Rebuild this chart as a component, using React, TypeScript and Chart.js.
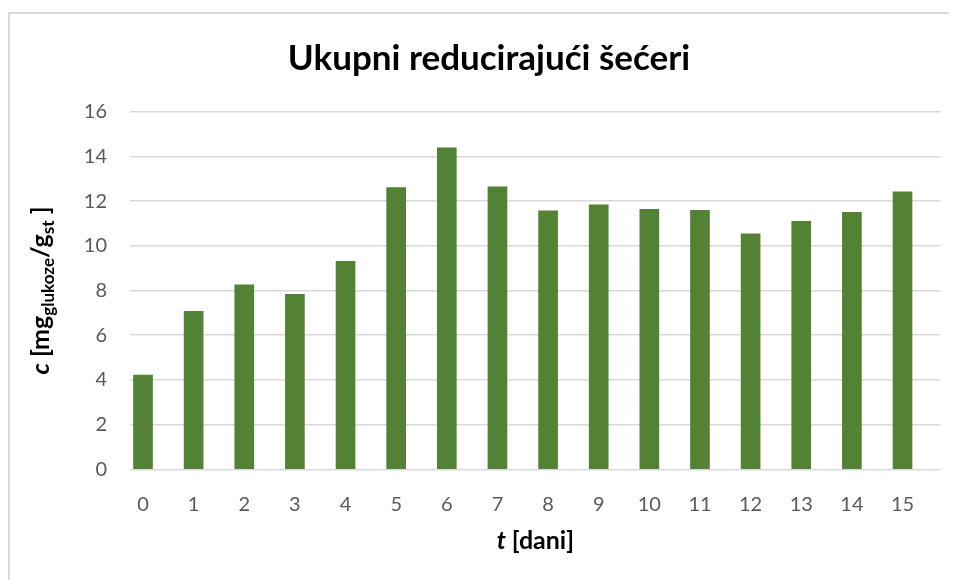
import React, { useEffect, useRef } from "react";
import { Chart, registerables } from "chart.js";

Chart.register(...registerables);

const days = [0, 1, 2, 3, 4, 5, 6, 7, 8, 9, 10, 11, 12, 13, 14, 15];
const values = [4.22, 7.07, 8.25, 7.83, 9.31, 12.6, 14.38, 12.64, 11.56, 11.83, 11.63, 11.59, 10.54, 11.1, 11.5, 12.41];
const yTicks = [0, 2, 4, 6, 8, 10, 12, 14, 16];
const chartTitle = "Ukupni reducirajući šećeri";
const xTitleParts = [
  { text: "t", italic: true, sub: false },
  { text: " [dani]", italic: false, sub: false },
];
const yTitleParts = [
  { text: "c", italic: true, sub: false },
  { text: " [mg", italic: false, sub: false },
  { text: "glukoze", italic: false, sub: true },
  { text: "/g", italic: false, sub: false },
  { text: "st", italic: false, sub: true },
  { text: " ]", italic: false, sub: false },
];

const FONT = "Lato, 'Open Sans', sans-serif";

function drawRich(ctx: CanvasRenderingContext2D, parts: any[], cx: number, cy: number, rotate: boolean, size: number, subSize: number) {
  const fontFor = (p: any) => `${p.italic ? "italic " : ""}bold ${p.sub ? subSize : size}px ${FONT}`;
  let total = 0;
  const widths = parts.map((p) => {
    ctx.font = fontFor(p);
    const w = ctx.measureText(p.text).width;
    total += w;
    return w;
  });
  ctx.save();
  ctx.translate(cx, cy);
  if (rotate) ctx.rotate(-Math.PI / 2);
  ctx.textAlign = "left";
  ctx.textBaseline = "alphabetic";
  ctx.fillStyle = "#000000";
  let x = -total / 2;
  parts.forEach((p, i) => {
    ctx.font = fontFor(p);
    ctx.fillText(p.text, x, p.sub ? 5 : 0);
    x += widths[i];
  });
  ctx.restore();
}

const titlesPlugin = {
  id: "customTitles",
  afterDraw(chart: any) {
    const { ctx, chartArea } = chart;
    ctx.save();
    ctx.fillStyle = "#000000";
    ctx.font = `bold 35px ${FONT}`;
    ctx.textAlign = "center";
    ctx.textBaseline = "alphabetic";
    ctx.fillText(chartTitle, 479, 56);
    ctx.restore();
    const cx = (chartArea.left + chartArea.right) / 2;
    drawRich(ctx, xTitleParts, cx, 535, false, 25, 16);
    const cy = (chartArea.top + chartArea.bottom) / 2;
    drawRich(ctx, yTitleParts, 39, cy, true, 25, 17);
  },
};

export default function App() {
  const ref = useRef<HTMLCanvasElement | null>(null);
  useEffect(() => {
    if (!ref.current) return;
    const chart = new Chart(ref.current, {
      type: "bar",
      data: {
        datasets: [
          {
            data: days.map((d, i) => ({ x: d, y: values[i] })),
            backgroundColor: "#548235",
            borderWidth: 0,
            barThickness: 19,
          },
        ],
      },
      options: {
        animation: false,
        responsive: true,
        maintainAspectRatio: false,
        layout: { padding: { top: 97.7, right: 16.3, left: 0, bottom: 0 } },
        plugins: { legend: { display: false }, title: { display: false }, tooltip: { enabled: false } },
        scales: {
          x: {
            type: "linear",
            offset: false,
            min: -0.2568,
            max: 15.754,
            afterFit: (s: any) => {
              s.height = 110.7;
            },
            afterBuildTicks: (s: any) => {
              s.ticks = days.map((d) => ({ value: d }));
            },
            ticks: {
              stepSize: 1,
              includeBounds: false,
              autoSkip: false,
              maxRotation: 0,
              padding: 23,
              color: "#595959",
              font: { family: FONT, size: 20 },
            },
            grid: { display: false, drawTicks: false, offset: false },
            border: { display: false },
          },
          y: {
            min: 0,
            max: 16,
            afterFit: (s: any) => {
              s.width = 120;
            },
            afterBuildTicks: (s: any) => {
              s.ticks = yTicks.map((v) => ({ value: v }));
            },
            ticks: {
              stepSize: 2,
              padding: 23,
              color: "#595959",
              font: { family: FONT, size: 20 },
            },
            grid: { color: "#d9d9d9", lineWidth: 1.5, drawTicks: false },
            border: { display: false },
          },
        },
      },
      plugins: [titlesPlugin],
    });
    return () => chart.destroy();
  }, []);
  return (
    <div style={{ paddingTop: 4 }}>
      <div
        style={{
          boxSizing: "border-box",
          width: 949,
          height: 568,
          borderLeft: "2px solid #d9d9d9",
          borderTop: "2px solid #d9d9d9",
          background: "#ffffff",
        }}
      >
        <div style={{ position: "relative", width: 947, height: 566 }}>
          <canvas ref={ref} />
        </div>
      </div>
    </div>
  );
}
